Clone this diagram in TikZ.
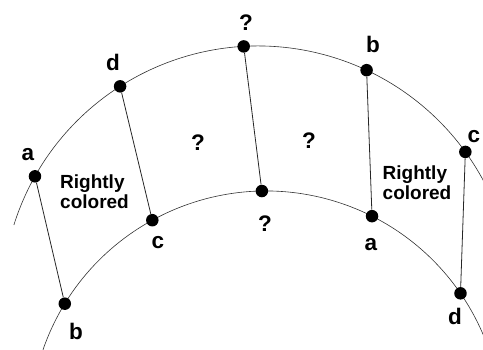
\documentclass[tikz,border=0pt]{standalone}
\usepackage{fontspec}
\setmainfont{Liberation Sans}
\usepackage{tikz}
\usetikzlibrary{calc}
\tikzstyle{edge} = [line width=0.8pt, color=black!85]

\begin{document}
\begin{tikzpicture}[x=1pt, y=1pt,
    vertex/.style={circle, fill=black, inner sep=0pt, minimum size=12.5pt},
    letter/.style={font=\fontsize{22.5}{24}\selectfont\bfseries},
    region/.style={align=left, font=\fontsize{19}{20}\selectfont\bfseries}
  ]
    \useasboundingbox (0,0) rectangle (483,349);
    \coordinate (O) at (258,47);   % centre of the outer arc
    \coordinate (I) at (266,-78);  % centre of the inner arc

    \draw[line width=0.6pt, black!80] ($(O)+(162.5:256pt)$) arc[start angle=162.5, end angle=27.0, radius=256pt];
    \draw[line width=0.6pt, black!80] ($(I)+(160.9:236pt)$) arc[start angle=160.9, end angle=19.5, radius=236pt];

    % vertices on the outer arc
    \node[vertex] (oa) at ($(O)+(150.6:256pt)$) {};
    \node[vertex] (od) at ($(O)+(122.6:256pt)$) {};
    \node[vertex] (oq) at ($(O)+(93.2:256pt)$) {};
    \node[vertex] (ob) at ($(O)+(64.9:256pt)$) {};
    \node[vertex] (oc) at ($(O)+(35.9:256pt)$) {};

    % vertices on the inner arc
    \node[vertex] (ib) at ($(I)+(148.5:236pt)$) {};
    \node[vertex] (ic) at ($(I)+(118.8:236pt)$) {};
    \node[vertex] (iq) at ($(I)+(91.0:236pt)$) {};
    \node[vertex] (ia) at ($(I)+(63.3:236pt)$) {};
    \node[vertex] (id) at ($(I)+(34.5:236pt)$) {};

    \draw[edge] (oa) -- (ib);
    \draw[edge] (od) -- (ic);
    \draw[edge] (oq) -- (iq);
    \draw[edge] (ob) -- (ia);
    \draw[edge] (oc) -- (id);

    \node[letter] (oal) at (28,194) {a};
    \node[letter] (odl) at (113,287) {d};
    \node[letter] (oql) at (246,326) {?};
    \node[letter] (obl) at (373,305) {b};
    \node[letter] (ocl) at (474,212) {c};

    \node[letter] (ibl) at (76,18) {b};
    \node[letter] (icl) at (158,106) {c};
    \node[letter] (iql) at (265,125) {?};
    \node[letter] (ial) at (371,104) {a};
    \node[letter] (idl) at (455,33) {d};

    \node[letter] (q1) at (198,206) {?};
    \node[letter] (q2) at (309,208) {?};
    \node[region] (rl) at (94.5,157) {Rightly\\colored};
    \node[region] (rr) at (417,166) {Rightly\\colored};
  \end{tikzpicture}
\end{document}
